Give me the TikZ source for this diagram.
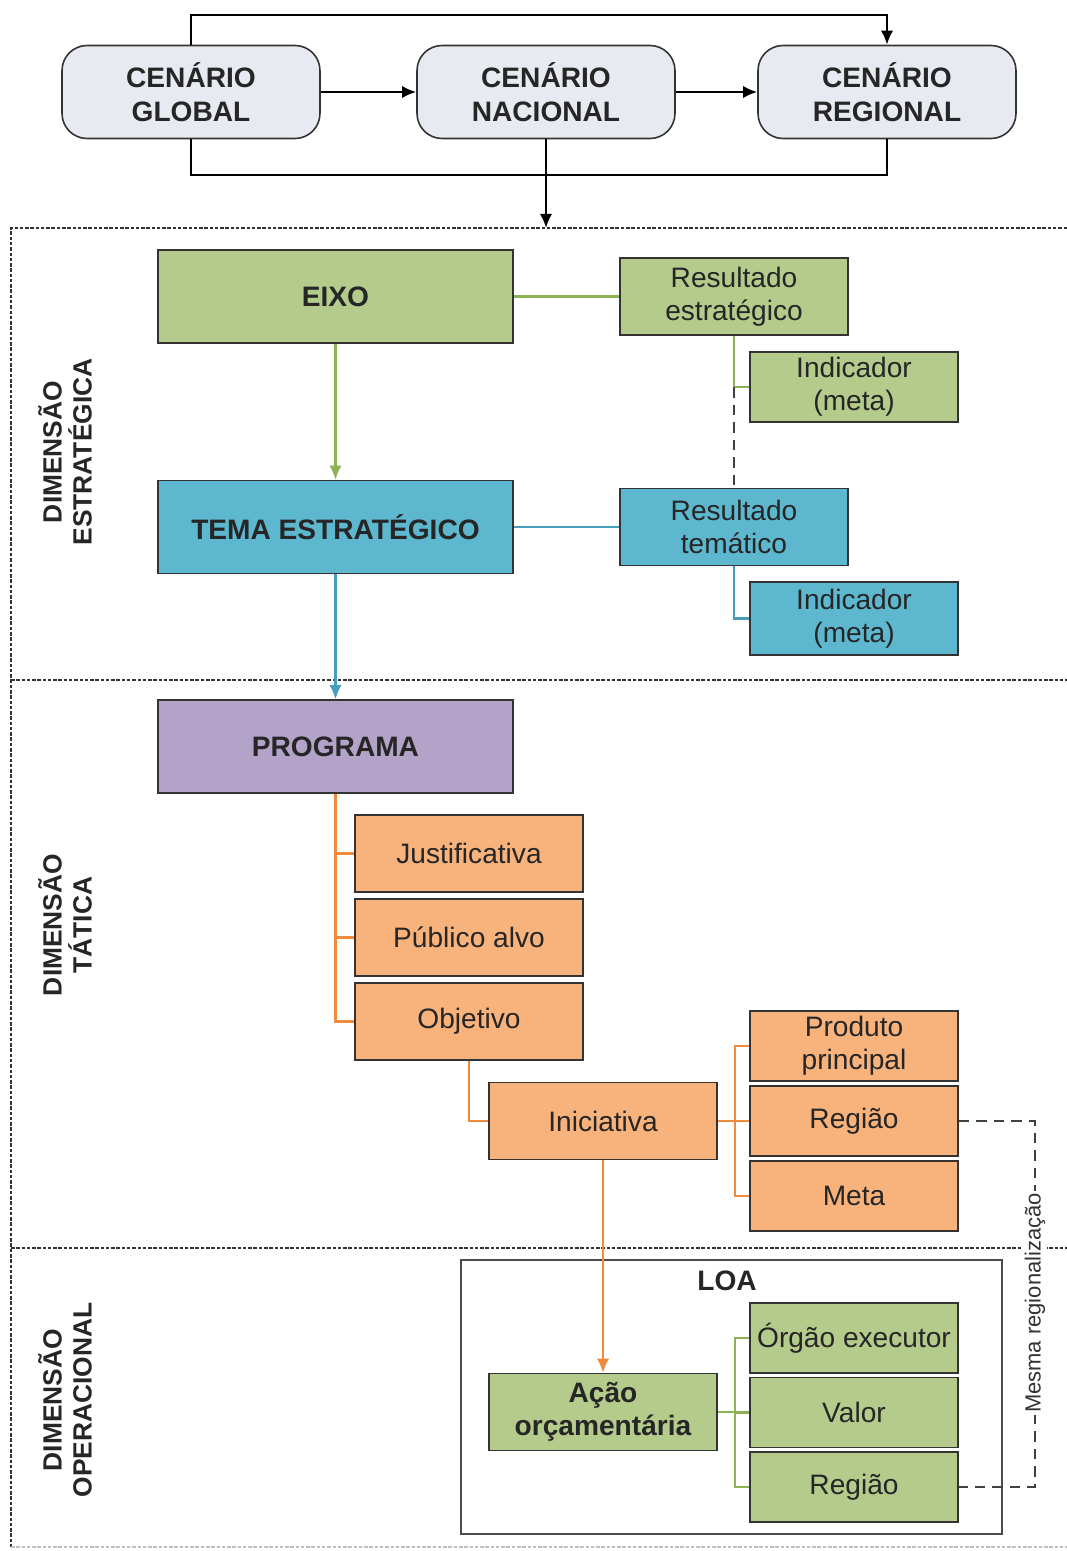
\documentclass[tikz,border=0pt]{standalone}
\usepackage{fontspec}
\setmainfont{Liberation Sans}
\usepackage{xcolor}
\usetikzlibrary{arrows.meta}
\usetikzlibrary{positioning}

\definecolor{cenfill}{RGB}{232,234,241}
\definecolor{verde}{RGB}{181,203,139}
\definecolor{verdelinha}{RGB}{140,178,84}
\definecolor{azul}{RGB}{92,183,207}
\definecolor{azullinha}{RGB}{70,158,186}
\definecolor{roxo}{RGB}{179,163,200}
\definecolor{laranja}{RGB}{248,178,124}
\definecolor{laranjalinha}{RGB}{240,138,60}

\newcommand{\textonormal}{\fontsize{16}{19}\selectfont}
\newcommand{\textonegrito}{\fontsize{16}{19}\selectfont\bfseries}

\tikzset{
  caixa/.style={draw=black!80, line width=0.9pt, align=center, inner sep=2pt, text=black!85},
  cenario/.style={caixa, rounded corners=0.5cm, fill=cenfill, font=\textonegrito, minimum width=5.16cm, minimum height=1.86cm},
  grande/.style={caixa, font=\textonegrito, minimum width=7.1cm, minimum height=1.86cm},
  media/.style={caixa, minimum width=4.56cm, minimum height=1.54cm},
  pequena/.style={caixa, minimum width=4.16cm, minimum height=1.4cm},
  dimensao/.style={rotate=90, align=center, font=\fontsize{15}{17}\selectfont\bfseries, text=black!85},
  pontilhado/.style={line width=1pt, dash pattern=on 2pt off 1pt, black!80},
  tracejado/.style={black!75, line width=0.9pt, dash pattern=on 6pt off 4pt}
}

\begin{document}
\begin{tikzpicture}[x=0.02cm, y=-0.02cm, font=\textonormal, >={Latex[length=8pt,width=7pt]}]
\useasboundingbox (0,0) rectangle (1067,1551);

% cenarios
\node[cenario] (gl) at (191,92) {CENÁRIO\\GLOBAL};
\node[cenario] (nac) at (546,92) {CENÁRIO\\NACIONAL};
\node[cenario] (reg) at (887,92) {CENÁRIO\\REGIONAL};
\coordinate (topo) at (0,15);
\coordinate (baixo) at (0,175);
\coordinate (quadro) at (0,228);

\draw[->, line width=1.3pt] (gl.east) -- (nac.west);
\draw[->, line width=1.3pt] (nac.east) -- (reg.west);
\draw[->, line width=1.3pt] (gl.north) -- (gl.north |- topo) -| (reg.north);
\draw[line width=1.3pt] (gl.south) |- (reg.south |- baixo) -- (reg.south);
\draw[->, line width=1.3pt] (nac.south) -- (nac.south |- quadro);

% quadro das dimensoes
\draw[pontilhado] (1067,228) -- (11,228) -- (11,1547);
\draw[pontilhado] (11,680) -- (1067,680);
\draw[pontilhado] (11,1248) -- (1067,1248);
\draw[pontilhado, black!25] (11,1547) -- (1067,1547);

\node[dimensao] (dE) at (65,452) {DIMENSÃO\\ESTRATÉGICA};
\node[dimensao] (dT) at (65,925) {DIMENSÃO\\TÁTICA};
\node[dimensao] (dO) at (65,1400) {DIMENSÃO\\OPERACIONAL};

% dimensao estrategica
\node[grande, fill=verde] (eixo) at (335.5,296.5) {EIXO};
\node[media, fill=verde] (resE) at (734,296.5) {Resultado\\estratégico};
\node[pequena, fill=verde] (indE) at (854,387) {Indicador\\(meta)};
\node[grande, fill=azul] (tema) at (335.5,527) {TEMA ESTRATÉGICO};
\node[media, fill=azul] (resT) at (734,527) {Resultado\\temático};
\node[pequena, fill=azul, minimum height=1.46cm] (indT) at (854,618.5) {Indicador\\(meta)};

\draw[verdelinha, line width=1.2pt] (eixo.east) -- (resE.west);
\draw[verdelinha, line width=1.2pt] (resE.south) |- (indE.west);
\draw[tracejado] (resE.south |- indE.west) -- (resT.north);
\draw[verdelinha, line width=1.2pt, ->] (eixo.south) -- (tema.north);
\draw[azullinha, line width=1.2pt] (tema.east) -- (resT.west);
\draw[azullinha, line width=1.2pt] (resT.south) |- (indT.west);

% dimensao tatica
\node[grande, fill=roxo] (prog) at (335.5,746.5) {PROGRAMA};
\draw[azullinha, line width=1.2pt, ->] (tema.south) -- (prog.north);

\node[media, fill=laranja] (just) at (469,853.5) {Justificativa};
\node[media, fill=laranja] (pub) at (469,937.5) {Público alvo};
\node[media, fill=laranja] (obj) at (469,1021.5) {Objetivo};
\node[media, fill=laranja] (inic) at (603,1121) {Iniciativa};
\node[pequena, fill=laranja] (prod) at (854,1046) {Produto\\principal};
\node[pequena, fill=laranja] (regI) at (854,1121) {Região};
\node[pequena, fill=laranja] (meta) at (854,1196) {Meta};

\foreach \f in {just,pub,obj}
  \draw[laranjalinha, line width=1.2pt] (prog.south) |- (\f.west);
\draw[laranjalinha, line width=1.2pt] (obj.south) |- (inic.west);
\coordinate (barraI) at (735,1121);
\draw[laranjalinha, line width=1.2pt] (inic.east) -- (barraI);
\foreach \f in {prod,regI,meta}
  \draw[laranjalinha, line width=1.2pt] (barraI) |- (\f.west);

% dimensao operacional
\draw[black!70, line width=1pt] (461,1260) rectangle (1002,1534);
\node[font=\textonegrito, text=black!85] (loa) at (727,1281) {LOA};
\node[media, fill=verde, font=\textonegrito] (acao) at (603,1412) {Ação\\orçamentária};
\node[pequena, fill=verde] (orgao) at (854,1338) {Órgão executor};
\node[pequena, fill=verde] (valor) at (854,1412.5) {Valor};
\node[pequena, fill=verde] (regA) at (854,1487) {Região};

\draw[laranjalinha, line width=1.2pt, ->] (inic.south) -- (acao.north);
\coordinate (barraA) at (735,1412);
\draw[verdelinha, line width=1.2pt] (acao.east) -- (barraA);
\foreach \f in {orgao,valor,regA}
  \draw[verdelinha, line width=1.2pt] (barraA) |- (\f.west);

% mesma regionalizacao
\coordinate (lateral) at (1035,0);
\draw[tracejado] (regI.east) -| (lateral |- regA.east) -- (regA.east);
\node[rotate=90, fill=white, inner sep=1pt, font=\fontsize{12.5}{14}\selectfont, text=black!80] (mesma) at (1035,1303) {Mesma regionalização};
\end{tikzpicture}
\end{document}
